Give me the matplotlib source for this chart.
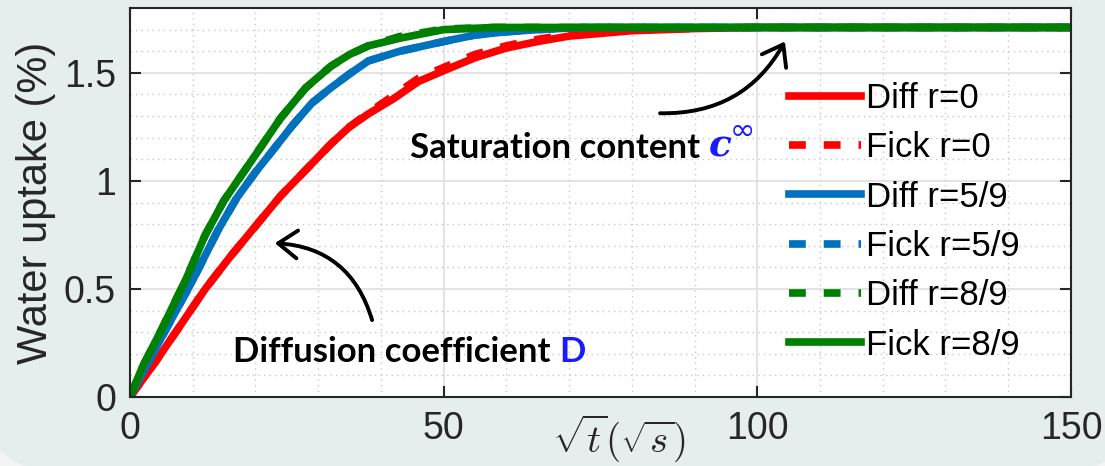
import numpy as np
import matplotlib.pyplot as plt
from matplotlib.patches import FancyBboxPatch

plt.rcParams['font.family'] = ['Liberation Sans', 'DejaVu Sans']
plt.rcParams['mathtext.fontset'] = 'cm'

# sqrt(t) values and water uptake (%)
x_r0 = [0, 4, 8, 12, 16, 20, 24, 28, 32, 35, 38, 42, 46, 50, 55, 60, 65, 70, 80, 90, 100, 150]
diff_r0 = [0, 0.16, 0.33, 0.50, 0.65, 0.79, 0.93, 1.05, 1.17, 1.25, 1.31, 1.38, 1.46, 1.51, 1.57, 1.615, 1.645, 1.67, 1.695, 1.705, 1.71, 1.71]
fick_r0 = [0, 0.16, 0.33, 0.50, 0.65, 0.79, 0.93, 1.05, 1.17, 1.25, 1.315, 1.395, 1.475, 1.525, 1.585, 1.625, 1.655, 1.678, 1.698, 1.706, 1.71, 1.71]

x_r59 = [0, 2, 4, 10, 14, 17, 20, 23, 26, 29, 32, 35, 38, 43, 50, 55, 60, 65, 72, 150]
diff_r59 = [0, 0.11, 0.22, 0.54, 0.77, 0.92, 1.04, 1.15, 1.26, 1.36, 1.43, 1.495, 1.555, 1.60, 1.645, 1.675, 1.69, 1.70, 1.71, 1.71]
fick_r59 = [0, 0.11, 0.22, 0.54, 0.77, 0.92, 1.04, 1.15, 1.26, 1.36, 1.43, 1.495, 1.555, 1.60, 1.645, 1.675, 1.69, 1.70, 1.71, 1.71]

x_r89 = [0, 2, 5, 9, 12, 15, 20, 24, 28, 32, 35, 38, 43, 50, 58, 150]
diff_r89 = [0, 0.14, 0.31, 0.55, 0.75, 0.91, 1.12, 1.29, 1.43, 1.53, 1.585, 1.625, 1.668, 1.703, 1.71, 1.71]
fick_r89 = [0, 0.14, 0.31, 0.55, 0.75, 0.91, 1.12, 1.29, 1.43, 1.53, 1.585, 1.625, 1.66, 1.70, 1.71, 1.71]

xticks = [0, 50, 100, 150]
yticks = [0, 0.5, 1, 1.5]

red = '#ff0000'
blue = '#0072bd'
green = '#008000'
lw = 5.5
dash = (2.2, 2.35)

fig = plt.figure(figsize=(11.05, 4.66), dpi=100, facecolor='#f3f4f4')
bg = FancyBboxPatch((-0.15, -0.04), 11.5, 5.0, boxstyle='round,pad=0,rounding_size=0.7',
                    transform=fig.dpi_scale_trans, facecolor='#e6eeed', edgecolor='none',
                    zorder=-10)
fig.patches.append(bg)

ax = fig.add_axes([0.1176, 0.148, 0.8516, 0.8348])

ax.plot(x_r0, diff_r0, color=red, lw=lw, label='Diff r=0')
ax.plot(x_r0, fick_r0, color=red, lw=lw, dashes=dash, label='Fick r=0')
ax.plot(x_r59, diff_r59, color=blue, lw=lw, label='Diff r=5/9')
ax.plot(x_r59, fick_r59, color=blue, lw=lw, dashes=dash, label='Fick r=5/9')
ax.plot(x_r89, diff_r89, color=green, lw=lw, dashes=dash, label='Diff r=8/9')
ax.plot(x_r89, fick_r89, color=green, lw=lw, label='Fick r=8/9')

ax.set_xlim(0, 150)
ax.set_ylim(0, 1.8)
ax.set_xticks(xticks)
ax.set_yticks(yticks)
ax.set_xticklabels(['0', '50', '100', '150'])
ax.set_yticklabels(['0', '0.5', '1', '1.5'])
ax.set_xticks(np.arange(0, 151, 10), minor=True)
ax.set_yticks(np.arange(0, 1.81, 0.1), minor=True)
ax.tick_params(which='major', direction='in', length=8, width=1.5, top=True, right=True,
               labelsize=27, labelcolor='#262626', pad=10, color='#262626')
ax.tick_params(which='minor', length=0)
ax.grid(which='major', color='#e0e0e0', lw=1.3)
ax.grid(which='minor', color='#c8c8c8', lw=1, linestyle=(0, (1, 3)))
ax.set_axisbelow(True)
for s in ax.spines.values():
    s.set_color('#262626')
    s.set_linewidth(1.5)

ax.set_ylabel('Water uptake (%)', fontsize=30, color='#262626', labelpad=6)
ax.set_xlabel(r'$\sqrt{t}(\sqrt{s})$', fontsize=28, color='#262626')
ax.xaxis.set_label_coords(0.52, -0.04)
ax.xaxis.label.set_va('top')

ax.legend(loc='upper left', bbox_to_anchor=(0.70, 0.81), frameon=False, fontsize=25,
          handlelength=2.07, handletextpad=0.17, labelspacing=0.47, borderpad=0, borderaxespad=0)

# annotations
ax.annotate('', xy=(23.1, 0.712), xytext=(38.6, 0.356),
            arrowprops=dict(arrowstyle='->,head_length=0.55,head_width=0.4', lw=2.8,
                            color='black', connectionstyle='arc3,rad=0.35', mutation_scale=25,
                            shrinkA=0, shrinkB=0))
ax.annotate('', xy=(104.4, 1.645), xytext=(84.5, 1.313),
            arrowprops=dict(arrowstyle='->,head_length=0.55,head_width=0.4', lw=2.8,
                            color='black', connectionstyle='arc3,rad=0.3', mutation_scale=25,
                            shrinkA=0, shrinkB=0))

t1 = ax.text(16.4, 0.208, 'Diffusion coefficient ', fontsize=25, fontweight='bold',
             family='Lato', va='center', ha='left')
ax.annotate('D', xy=(1, 0), xycoords=t1, va='bottom', ha='left', fontsize=25,
            fontweight='bold', family='Lato', color='#1a1aff')

t2 = ax.text(44.6, 1.151, 'Saturation content ', fontsize=25, fontweight='bold',
             family='Lato', va='center', ha='left')
t3 = ax.annotate('c', xy=(1, 0), xycoords=t2, va='bottom', ha='left', fontsize=27,
                 fontweight='bold', style='italic', family='DejaVu Serif', color='#1a1aff')
ax.annotate('\u221e', xy=(0.95, 0.5), xycoords=t3, va='bottom', ha='left', fontsize=22,
            color='#1a1aff', family='DejaVu Sans')

fig.savefig('out.png', dpi=100, facecolor=fig.get_facecolor())
